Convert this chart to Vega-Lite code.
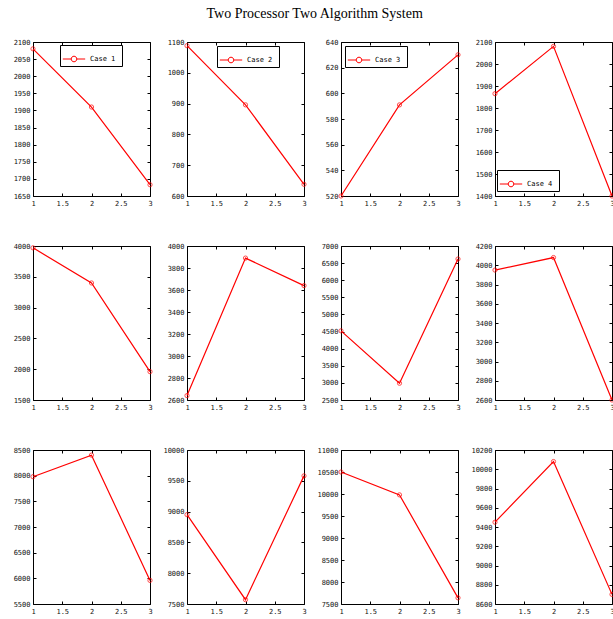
{
  "$schema": "https://vega.github.io/schema/vega-lite/v6.json",
  "padding": {"left": 12, "top": 6, "right": 0, "bottom": 0},
  "background": "white",
  "title": {"text": "Two Processor Two Algorithm System", "font": "Liberation Serif", "fontSize": 14, "fontWeight": "normal", "color": "black", "anchor": "middle", "offset": 17},
  "data": {"values": [
    {"p":1,"x":1,"y":2080,"s":"Case  1"},{"p":1,"x":2,"y":1910,"s":"Case  1"},{"p":1,"x":3,"y":1683,"s":"Case  1"},
    {"p":2,"x":1,"y":1088,"s":"Case  2"},{"p":2,"x":2,"y":896,"s":"Case  2"},{"p":2,"x":3,"y":638,"s":"Case  2"},
    {"p":3,"x":1,"y":520,"s":"Case  3"},{"p":3,"x":2,"y":591,"s":"Case  3"},{"p":3,"x":3,"y":630,"s":"Case  3"},
    {"p":4,"x":1,"y":1865,"s":"Case  4"},{"p":4,"x":2,"y":2080,"s":"Case  4"},{"p":4,"x":3,"y":1400,"s":"Case  4"},
    {"p":5,"x":1,"y":3970},{"p":5,"x":2,"y":3400},{"p":5,"x":3,"y":1960},
    {"p":6,"x":1,"y":2640},{"p":6,"x":2,"y":3890},{"p":6,"x":3,"y":3640},
    {"p":7,"x":1,"y":4520},{"p":7,"x":2,"y":2990},{"p":7,"x":3,"y":6620},
    {"p":8,"x":1,"y":3950},{"p":8,"x":2,"y":4080},{"p":8,"x":3,"y":2600},
    {"p":9,"x":1,"y":7980},{"p":9,"x":2,"y":8400},{"p":9,"x":3,"y":5960},
    {"p":10,"x":1,"y":8950},{"p":10,"x":2,"y":7570},{"p":10,"x":3,"y":9580},
    {"p":11,"x":1,"y":10500},{"p":11,"x":2,"y":9980},{"p":11,"x":3,"y":7640},
    {"p":12,"x":1,"y":9450},{"p":12,"x":2,"y":10080},{"p":12,"x":3,"y":8700}
  ]},
  "columns": 4,
  "spacing": {"row": 50, "column": 37},
  "bounds": "flush",
  "resolve": {"scale": {"x": "independent", "y": "independent", "color": "independent"}, "legend": {"color": "independent"}, "axis": {"x": "independent", "y": "independent"}},
  "config": {
    "view": {"stroke": "black", "strokeWidth": 1},
    "axis": {"title": null, "grid": false, "domain": false, "tickSize": -3, "tickColor": "black", "tickWidth": 1, "zindex": 1, "labelFont": "DejaVu Sans Mono", "labelFontSize": 7, "labelColor": "#111", "labelPadding": 6},
    "axisX": {"labelFlush": false, "format": "~g"},
    "axisY": {"labelFlush": false, "format": "d"},
    "legend": {"strokeColor": "black", "fillColor": "white", "padding": 2, "cornerRadius": 0, "labelFont": "DejaVu Sans Mono", "labelFontSize": 7, "labelColor": "black", "title": null, "symbolType": "M-1,0H-0.25M0.25,0H1M-0.25,0A0.25,0.25 0 1,0 0.25,0A0.25,0.25 0 1,0 -0.25,0", "symbolSize": 500, "symbolStrokeColor": "red", "symbolStrokeWidth": 1, "symbolFillColor": "transparent", "rowPadding": 0, "labelOffset": 4}
  },
  "concat": [
    {"width":117,"height":154,"transform":[{"filter":"datum.p==1"}],"resolve":{"axis":{"x":"independent","y":"independent"}},"layer":[
      {"mark":{"type":"line","strokeWidth":1.2},"encoding":{"x":{"field":"x","type":"quantitative","scale":{"domain":[1,3],"nice":false},"axis":{"values":[1,1.5,2,2.5,3]}},"y":{"field":"y","type":"quantitative","scale":{"domain":[1650,2100],"nice":false,"zero":false},"axis":{"values":[1650,1700,1750,1800,1850,1900,1950,2000,2050,2100]}},"color":{"field":"s","type":"nominal","scale":{"range":["red"]},"legend":{"orient":"none","legendX":27,"legendY":3}}}},
      {"mark":{"type":"point","shape":"circle","size":18,"filled":false,"color":"red","strokeWidth":1},"encoding":{"x":{"field":"x","type":"quantitative","axis":{"orient":"top","labels":false,"values":[1,1.5,2,2.5,3]}},"y":{"field":"y","type":"quantitative","axis":{"orient":"right","labels":false,"values":[1650,1700,1750,1800,1850,1900,1950,2000,2050,2100]}}}}
    ]},
    {"width":117,"height":154,"transform":[{"filter":"datum.p==2"}],"resolve":{"axis":{"x":"independent","y":"independent"}},"layer":[
      {"mark":{"type":"line","strokeWidth":1.2},"encoding":{"x":{"field":"x","type":"quantitative","scale":{"domain":[1,3],"nice":false},"axis":{"values":[1,1.5,2,2.5,3]}},"y":{"field":"y","type":"quantitative","scale":{"domain":[600,1100],"nice":false,"zero":false},"axis":{"values":[600,700,800,900,1000,1100]}},"color":{"field":"s","type":"nominal","scale":{"range":["red"]},"legend":{"orient":"none","legendX":30,"legendY":4}}}},
      {"mark":{"type":"point","shape":"circle","size":18,"filled":false,"color":"red","strokeWidth":1},"encoding":{"x":{"field":"x","type":"quantitative","axis":{"orient":"top","labels":false,"values":[1,1.5,2,2.5,3]}},"y":{"field":"y","type":"quantitative","axis":{"orient":"right","labels":false,"values":[600,700,800,900,1000,1100]}}}}
    ]},
    {"width":117,"height":154,"transform":[{"filter":"datum.p==3"}],"resolve":{"axis":{"x":"independent","y":"independent"}},"layer":[
      {"mark":{"type":"line","strokeWidth":1.2},"encoding":{"x":{"field":"x","type":"quantitative","scale":{"domain":[1,3],"nice":false},"axis":{"values":[1,1.5,2,2.5,3]}},"y":{"field":"y","type":"quantitative","scale":{"domain":[520,640],"nice":false,"zero":false},"axis":{"values":[520,540,560,580,600,620,640]}},"color":{"field":"s","type":"nominal","scale":{"range":["red"]},"legend":{"orient":"none","legendX":4,"legendY":4}}}},
      {"mark":{"type":"point","shape":"circle","size":18,"filled":false,"color":"red","strokeWidth":1},"encoding":{"x":{"field":"x","type":"quantitative","axis":{"orient":"top","labels":false,"values":[1,1.5,2,2.5,3]}},"y":{"field":"y","type":"quantitative","axis":{"orient":"right","labels":false,"values":[520,540,560,580,600,620,640]}}}}
    ]},
    {"width":117,"height":154,"transform":[{"filter":"datum.p==4"}],"resolve":{"axis":{"x":"independent","y":"independent"}},"layer":[
      {"mark":{"type":"line","strokeWidth":1.2},"encoding":{"x":{"field":"x","type":"quantitative","scale":{"domain":[1,3],"nice":false},"axis":{"values":[1,1.5,2,2.5,3]}},"y":{"field":"y","type":"quantitative","scale":{"domain":[1400,2100],"nice":false,"zero":false},"axis":{"values":[1400,1500,1600,1700,1800,1900,2000,2100]}},"color":{"field":"s","type":"nominal","scale":{"range":["red"]},"legend":{"orient":"none","legendX":2,"legendY":128}}}},
      {"mark":{"type":"point","shape":"circle","size":18,"filled":false,"color":"red","strokeWidth":1},"encoding":{"x":{"field":"x","type":"quantitative","axis":{"orient":"top","labels":false,"values":[1,1.5,2,2.5,3]}},"y":{"field":"y","type":"quantitative","axis":{"orient":"right","labels":false,"values":[1400,1500,1600,1700,1800,1900,2000,2100]}}}}
    ]},
    {"width":117,"height":154,"transform":[{"filter":"datum.p==5"}],"resolve":{"axis":{"x":"independent","y":"independent"}},"layer":[
      {"mark":{"type":"line","strokeWidth":1.2,"color":"red"},"encoding":{"x":{"field":"x","type":"quantitative","scale":{"domain":[1,3],"nice":false},"axis":{"values":[1,1.5,2,2.5,3]}},"y":{"field":"y","type":"quantitative","scale":{"domain":[1500,4000],"nice":false,"zero":false},"axis":{"values":[1500,2000,2500,3000,3500,4000]}}}},
      {"mark":{"type":"point","shape":"circle","size":18,"filled":false,"color":"red","strokeWidth":1},"encoding":{"x":{"field":"x","type":"quantitative","axis":{"orient":"top","labels":false,"values":[1,1.5,2,2.5,3]}},"y":{"field":"y","type":"quantitative","axis":{"orient":"right","labels":false,"values":[1500,2000,2500,3000,3500,4000]}}}}
    ]},
    {"width":117,"height":154,"transform":[{"filter":"datum.p==6"}],"resolve":{"axis":{"x":"independent","y":"independent"}},"layer":[
      {"mark":{"type":"line","strokeWidth":1.2,"color":"red"},"encoding":{"x":{"field":"x","type":"quantitative","scale":{"domain":[1,3],"nice":false},"axis":{"values":[1,1.5,2,2.5,3]}},"y":{"field":"y","type":"quantitative","scale":{"domain":[2600,4000],"nice":false,"zero":false},"axis":{"values":[2600,2800,3000,3200,3400,3600,3800,4000]}}}},
      {"mark":{"type":"point","shape":"circle","size":18,"filled":false,"color":"red","strokeWidth":1},"encoding":{"x":{"field":"x","type":"quantitative","axis":{"orient":"top","labels":false,"values":[1,1.5,2,2.5,3]}},"y":{"field":"y","type":"quantitative","axis":{"orient":"right","labels":false,"values":[2600,2800,3000,3200,3400,3600,3800,4000]}}}}
    ]},
    {"width":117,"height":154,"transform":[{"filter":"datum.p==7"}],"resolve":{"axis":{"x":"independent","y":"independent"}},"layer":[
      {"mark":{"type":"line","strokeWidth":1.2,"color":"red"},"encoding":{"x":{"field":"x","type":"quantitative","scale":{"domain":[1,3],"nice":false},"axis":{"values":[1,1.5,2,2.5,3]}},"y":{"field":"y","type":"quantitative","scale":{"domain":[2500,7000],"nice":false,"zero":false},"axis":{"values":[2500,3000,3500,4000,4500,5000,5500,6000,6500,7000]}}}},
      {"mark":{"type":"point","shape":"circle","size":18,"filled":false,"color":"red","strokeWidth":1},"encoding":{"x":{"field":"x","type":"quantitative","axis":{"orient":"top","labels":false,"values":[1,1.5,2,2.5,3]}},"y":{"field":"y","type":"quantitative","axis":{"orient":"right","labels":false,"values":[2500,3000,3500,4000,4500,5000,5500,6000,6500,7000]}}}}
    ]},
    {"width":117,"height":154,"transform":[{"filter":"datum.p==8"}],"resolve":{"axis":{"x":"independent","y":"independent"}},"layer":[
      {"mark":{"type":"line","strokeWidth":1.2,"color":"red"},"encoding":{"x":{"field":"x","type":"quantitative","scale":{"domain":[1,3],"nice":false},"axis":{"values":[1,1.5,2,2.5,3]}},"y":{"field":"y","type":"quantitative","scale":{"domain":[2600,4200],"nice":false,"zero":false},"axis":{"values":[2600,2800,3000,3200,3400,3600,3800,4000,4200]}}}},
      {"mark":{"type":"point","shape":"circle","size":18,"filled":false,"color":"red","strokeWidth":1},"encoding":{"x":{"field":"x","type":"quantitative","axis":{"orient":"top","labels":false,"values":[1,1.5,2,2.5,3]}},"y":{"field":"y","type":"quantitative","axis":{"orient":"right","labels":false,"values":[2600,2800,3000,3200,3400,3600,3800,4000,4200]}}}}
    ]},
    {"width":117,"height":154,"transform":[{"filter":"datum.p==9"}],"resolve":{"axis":{"x":"independent","y":"independent"}},"layer":[
      {"mark":{"type":"line","strokeWidth":1.2,"color":"red"},"encoding":{"x":{"field":"x","type":"quantitative","scale":{"domain":[1,3],"nice":false},"axis":{"values":[1,1.5,2,2.5,3]}},"y":{"field":"y","type":"quantitative","scale":{"domain":[5500,8500],"nice":false,"zero":false},"axis":{"values":[5500,6000,6500,7000,7500,8000,8500]}}}},
      {"mark":{"type":"point","shape":"circle","size":18,"filled":false,"color":"red","strokeWidth":1},"encoding":{"x":{"field":"x","type":"quantitative","axis":{"orient":"top","labels":false,"values":[1,1.5,2,2.5,3]}},"y":{"field":"y","type":"quantitative","axis":{"orient":"right","labels":false,"values":[5500,6000,6500,7000,7500,8000,8500]}}}}
    ]},
    {"width":117,"height":154,"transform":[{"filter":"datum.p==10"}],"resolve":{"axis":{"x":"independent","y":"independent"}},"layer":[
      {"mark":{"type":"line","strokeWidth":1.2,"color":"red"},"encoding":{"x":{"field":"x","type":"quantitative","scale":{"domain":[1,3],"nice":false},"axis":{"values":[1,1.5,2,2.5,3]}},"y":{"field":"y","type":"quantitative","scale":{"domain":[7500,10000],"nice":false,"zero":false},"axis":{"values":[7500,8000,8500,9000,9500,10000]}}}},
      {"mark":{"type":"point","shape":"circle","size":18,"filled":false,"color":"red","strokeWidth":1},"encoding":{"x":{"field":"x","type":"quantitative","axis":{"orient":"top","labels":false,"values":[1,1.5,2,2.5,3]}},"y":{"field":"y","type":"quantitative","axis":{"orient":"right","labels":false,"values":[7500,8000,8500,9000,9500,10000]}}}}
    ]},
    {"width":117,"height":154,"transform":[{"filter":"datum.p==11"}],"resolve":{"axis":{"x":"independent","y":"independent"}},"layer":[
      {"mark":{"type":"line","strokeWidth":1.2,"color":"red"},"encoding":{"x":{"field":"x","type":"quantitative","scale":{"domain":[1,3],"nice":false},"axis":{"values":[1,1.5,2,2.5,3]}},"y":{"field":"y","type":"quantitative","scale":{"domain":[7500,11000],"nice":false,"zero":false},"axis":{"values":[7500,8000,8500,9000,9500,10000,10500,11000]}}}},
      {"mark":{"type":"point","shape":"circle","size":18,"filled":false,"color":"red","strokeWidth":1},"encoding":{"x":{"field":"x","type":"quantitative","axis":{"orient":"top","labels":false,"values":[1,1.5,2,2.5,3]}},"y":{"field":"y","type":"quantitative","axis":{"orient":"right","labels":false,"values":[7500,8000,8500,9000,9500,10000,10500,11000]}}}}
    ]},
    {"width":117,"height":154,"transform":[{"filter":"datum.p==12"}],"resolve":{"axis":{"x":"independent","y":"independent"}},"layer":[
      {"mark":{"type":"line","strokeWidth":1.2,"color":"red"},"encoding":{"x":{"field":"x","type":"quantitative","scale":{"domain":[1,3],"nice":false},"axis":{"values":[1,1.5,2,2.5,3]}},"y":{"field":"y","type":"quantitative","scale":{"domain":[8600,10200],"nice":false,"zero":false},"axis":{"values":[8600,8800,9000,9200,9400,9600,9800,10000,10200]}}}},
      {"mark":{"type":"point","shape":"circle","size":18,"filled":false,"color":"red","strokeWidth":1},"encoding":{"x":{"field":"x","type":"quantitative","axis":{"orient":"top","labels":false,"values":[1,1.5,2,2.5,3]}},"y":{"field":"y","type":"quantitative","axis":{"orient":"right","labels":false,"values":[8600,8800,9000,9200,9400,9600,9800,10000,10200]}}}}
    ]}
  ]
}
